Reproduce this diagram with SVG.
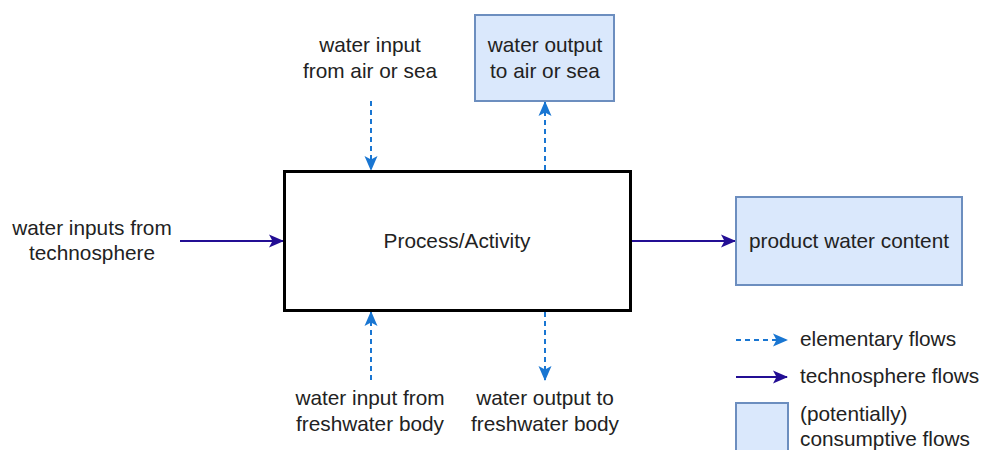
<svg xmlns="http://www.w3.org/2000/svg" width="981" height="450" viewBox="0 0 981 450">
<style>
text{font-family:"Liberation Sans",Arial,sans-serif;font-size:20.8px;fill:#222;}
.c{text-anchor:middle;}
.el{stroke:#1976D2;stroke-width:2;stroke-dasharray:5 4;fill:none;}
.te{stroke:#230E94;stroke-width:2;fill:none;}
.pot{fill:#dae8fc;stroke:#6c8ebf;stroke-width:2;}
</style>
<defs>
<marker id="ab" markerUnits="userSpaceOnUse" markerWidth="16" markerHeight="14" viewBox="0 0 16 14" refX="14" refY="7" orient="auto">
<path d="M0,0.5 L15,7 L0,13.5 L3.5,7 Z" fill="#1976D2"/>
</marker>
<marker id="ap" markerUnits="userSpaceOnUse" markerWidth="16" markerHeight="14" viewBox="0 0 16 14" refX="14" refY="7" orient="auto">
<path d="M0,0.5 L15,7 L0,13.5 L3.5,7 Z" fill="#230E94"/>
</marker>
</defs>
<g id="connectors">
<line class="el" x1="371" y1="101" x2="371" y2="170" marker-end="url(#ab)"/>
<line class="el" x1="545" y1="170" x2="545" y2="102" marker-end="url(#ab)"/>
<line class="el" x1="371" y1="380" x2="371" y2="312" marker-end="url(#ab)"/>
<line class="el" x1="545" y1="312" x2="545" y2="380" marker-end="url(#ab)"/>
<line class="te" x1="180" y1="241" x2="283" y2="241" marker-end="url(#ap)"/>
<line class="te" x1="632" y1="241" x2="735" y2="241" marker-end="url(#ap)"/>
</g>
<g id="process">
<rect x="284.5" y="171.5" width="346" height="139" fill="#fff" stroke="#000" stroke-width="3"/>
<text class="c" x="457" y="248">Process/Activity</text>
</g>
<g id="air-output">
<rect class="pot" x="475" y="15" width="139" height="86"/>
<text class="c" x="545" y="52">water output</text>
<text class="c" x="545" y="78">to air or sea</text>
</g>
<g id="air-input">
<text class="c" x="370" y="52">water input</text>
<text class="c" x="370" y="78">from air or sea</text>
</g>
<g id="techno-input">
<text class="c" x="92" y="235">water inputs from</text>
<text class="c" x="92" y="260">technosphere</text>
</g>
<g id="product">
<rect class="pot" x="736" y="197" width="226" height="88"/>
<text class="c" x="849" y="248">product water content</text>
</g>
<g id="fresh-input">
<text class="c" x="370" y="405">water input from</text>
<text class="c" x="370" y="431">freshwater body</text>
</g>
<g id="fresh-output">
<text class="c" x="545" y="405">water output to</text>
<text class="c" x="545" y="431">freshwater body</text>
</g>
<g id="legend">
<line class="el" x1="736" y1="340" x2="787" y2="340" marker-end="url(#ab)"/>
<text x="800" y="346">elementary flows</text>
<line class="te" x1="736" y1="377" x2="787" y2="377" marker-end="url(#ap)"/>
<text x="800" y="383">technosphere flows</text>
<rect class="pot" x="736" y="403" width="52" height="50"/>
<text x="800" y="421">(potentially)</text>
<text x="800" y="446">consumptive flows</text>
</g>
</svg>
